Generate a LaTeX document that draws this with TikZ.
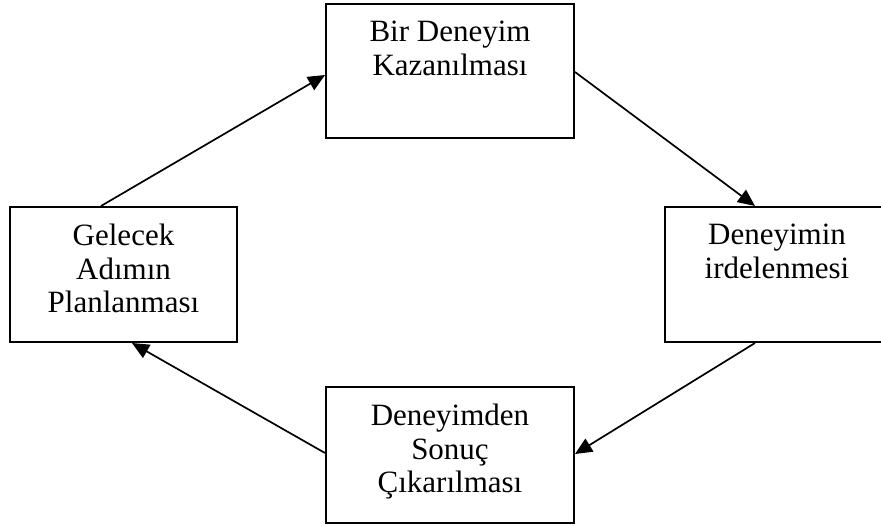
\documentclass[tikz,border=0pt]{standalone}
\usepackage{fontspec}
\setmainfont{Liberation Serif}
\usetikzlibrary{arrows.meta,calc}
\begin{document}
\begin{tikzpicture}[x=1pt,y=-1pt,
  box/.style={draw,line width=2pt,inner sep=0pt,rectangle},
  lbl/.style={anchor=north,inner sep=0pt,align=center,font=\fontsize{31}{33.5}\selectfont},
  conn/.style={line width=1.7pt,-{Triangle[length=17pt,width=15pt]}}]
\useasboundingbox (0,0) rectangle (881,525);
\node[box,minimum width=248,minimum height=134] (top) at (450,71) {};
\node[box,minimum width=248,minimum height=136] (bot) at (450,455) {};
\node[box,minimum width=227,minimum height=135] (lft) at (123.5,274.5) {};
\node[box,minimum width=224,minimum height=135] (rgt) at (777,274.5) {};
\node[lbl] (ttop) at ($(top.north)+(0,18)$) {Bir Deneyim\\Kazanılması};
\node[lbl] (tbot) at ($(bot.north)+(0,18)$) {Deneyimden\\Sonuç\\Çıkarılması};
\node[lbl] (tlft) at ($(lft.north)+(0,18)$) {Gelecek\\Adımın\\Planlanması};
\node[lbl] (trgt) at ($(rgt.north)+(0,18)$) {Deneyimin\\irdelenmesi};
\coordinate (a1s) at ($(lft.north)+(-22.5,0)$);
\coordinate (a1e) at ($(top.west)+(0,4)$);
\coordinate (a2s) at ($(top.east)+(0,1)$);
\coordinate (a2e) at ($(rgt.north)+(-22,0)$);
\coordinate (a3s) at ($(rgt.south)+(-22,0)$);
\coordinate (a3e) at ($(bot.east)+(0,-1)$);
\coordinate (a4s) at ($(bot.west)+(0,-2)$);
\coordinate (a4e) at ($(lft.south)+(8.5,0)$);
\draw[conn] (a1s) -- (a1e);
\draw[conn] (a2s) -- (a2e);
\draw[conn] (a3s) -- (a3e);
\draw[conn] (a4s) -- (a4e);
\end{tikzpicture}
\end{document}
